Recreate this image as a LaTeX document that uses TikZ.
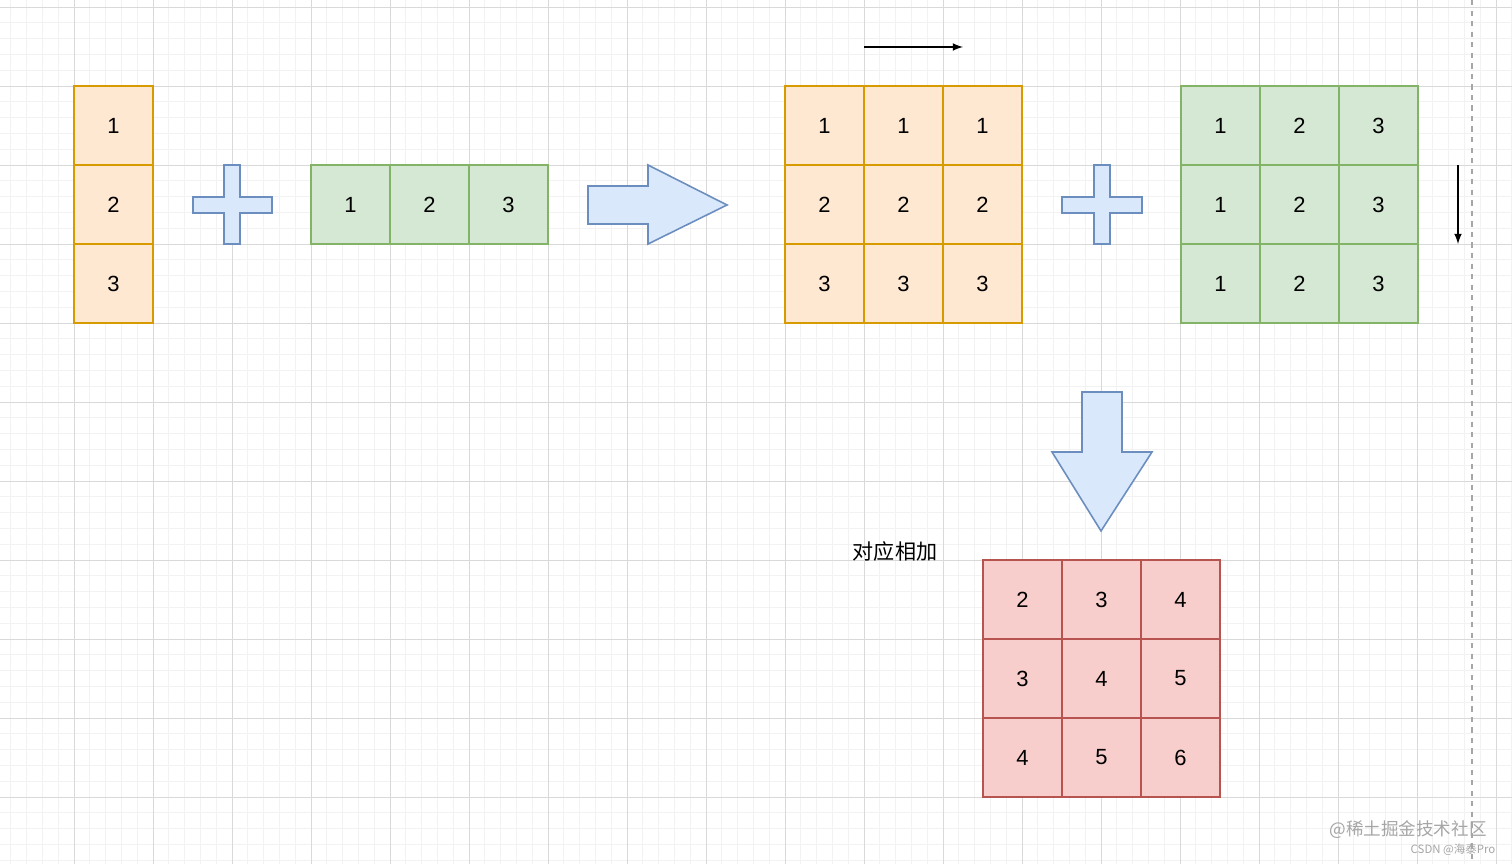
\documentclass[tikz,border=0pt]{standalone}
\usepackage{fontspec}
\setmainfont{Liberation Sans}
\newfontfamily\cjk{Noto Sans CJK SC}
\begin{document}
\begin{tikzpicture}[x=0.02cm,y=-0.02cm,
  cell/.style={draw,line width=1.1pt,minimum size=79*0.02cm,inner sep=0,font=\fontsize{12.5}{14}\selectfont,anchor=center},
  org/.style={cell,fill=orange!18!white,draw={rgb,255:red,215;green,155;blue,0}},
  grn/.style={cell,fill={rgb,255:red,213;green,232;blue,212},draw={rgb,255:red,130;green,179;blue,102}},
  rd/.style={cell,fill={rgb,255:red,248;green,206;blue,204},draw={rgb,255:red,184;green,84;blue,80}},
  blu/.style={fill={rgb,255:red,218;green,232;blue,252},draw={rgb,255:red,108;green,142;blue,191},line width=0.9pt}]
\useasboundingbox (0,0) rectangle (1512,864);
\fill[white] (0,0) rectangle (1512,864);
% minor grid
\foreach \i in {-4,...,91} {\draw[black!5,line width=0.4pt] ({74+15.8*\i},0) -- ({74+15.8*\i},864);}
\foreach \i in {-5,...,49} {\draw[black!5,line width=0.4pt] (0,{86+15.8*\i}) -- (1512,{86+15.8*\i});}
\foreach \i in {0,...,18} {\draw[black!15,line width=0.5pt] ({74+79*\i},0) -- ({74+79*\i},864);}
\foreach \i in {-1,...,9} {\draw[black!15,line width=0.5pt] (0,{86+79*\i}) -- (1512,{86+79*\i});}
\draw[black!35,dashed,line width=0.6pt] (1472,0) -- (1472,864);
% column vector
\foreach \v [count=\k] in {1,2,3} \node[org] (c\k) at (113.5,{125.5+79*(\k-1)}) {\v};
% row vector
\foreach \v [count=\k] in {1,2,3} \node[grn] (r\k) at ({350.5+79*(\k-1)},204.5) {\v};
% plus 1
\draw[blu] (224,165) -- (240,165) -- (240,197) -- (272,197) -- (272,213) -- (240,213) -- (240,244) -- (224,244) -- (224,213) -- (193,213) -- (193,197) -- (224,197) -- cycle;
% big right arrow
\draw[blu] (588,186) -- (648,186) -- (648,165) -- (727,205) -- (648,244) -- (648,224) -- (588,224) -- cycle;
% expanded orange
\foreach \r in {1,2,3} \foreach \c in {1,2,3}
  \node[org] (o\r\c) at ({824.5+79*(\c-1)},{125.5+79*(\r-1)}) {\r};
% plus 2
\draw[blu] (1094,165) -- (1110,165) -- (1110,197) -- (1142,197) -- (1142,213) -- (1110,213) -- (1110,244) -- (1094,244) -- (1094,213) -- (1062,213) -- (1062,197) -- (1094,197) -- cycle;
% expanded green
\foreach \r in {1,2,3} \foreach \c in {1,2,3}
  \node[grn] (g\r\c) at ({1220.5+79*(\c-1)},{125.5+79*(\r-1)}) {\c};
% small arrows
\coordinate (h1) at (864,47); \coordinate (h2) at (963,47);
\draw[-latex,line width=1pt] (h1) -- (h2);
\coordinate (v1) at (1458,165); \coordinate (v2) at (1458,244);
\draw[-latex,line width=1pt] (v1) -- (v2);
% down arrow
\draw[blu] (1082,392) -- (1122,392) -- (1122,452) -- (1152,452) -- (1101,531) -- (1052,452) -- (1082,452) -- cycle;
% result
\foreach \r in {1,2,3} \foreach \c in {1,2,3}
  \node[rd] (s\r\c) at ({1022.5+79*(\c-1)},{599.5+79*(\r-1)}) {\the\numexpr\r+\c\relax};
\node[font=\cjk\fontsize{12}{14}\selectfont] (lbl) at (895,551) {对应相加};
\node[font=\cjk\fontsize{10}{12}\selectfont,text=black!35] (wm) at (1408,830) {@稀土掘金技术社区};
\node[font=\cjk\fontsize{6.5}{8}\selectfont,text=black!35] (wm2) at (1453,850) {CSDN @海泰Pro};
\end{tikzpicture}
\end{document}
